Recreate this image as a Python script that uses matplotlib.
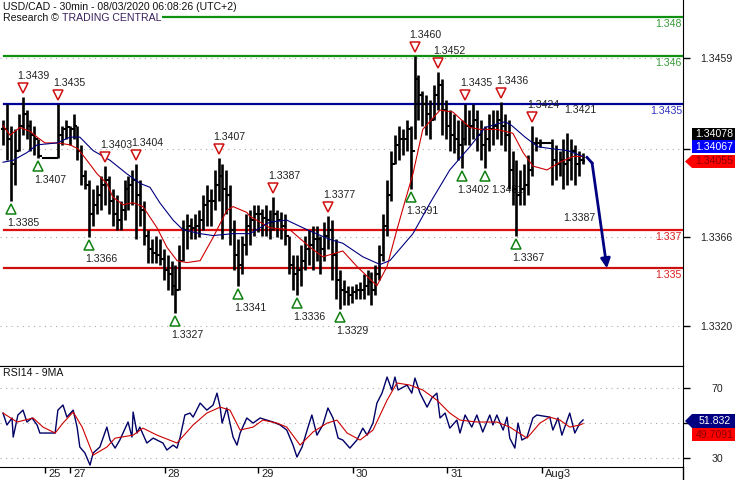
import numpy as np
import matplotlib
matplotlib.use('Agg')
import matplotlib.pyplot as plt
from matplotlib.patches import Polygon
from matplotlib.lines import Line2D
from matplotlib.transforms import offset_copy

plt.rcParams['font.family'] = ['Liberation Sans', 'DejaVu Sans']

# USD/CAD (one bar ~ one hour)
high = [1.3427, 1.3435, 1.3424, 1.3422, 1.3430, 1.3439, 1.3432, 1.3427, 1.3424, 1.3417,
        1.3407, 1.3407, 1.3407, 1.3407, 1.3435, 1.3424, 1.3427, 1.3424, 1.3430, 1.3424,
        1.3414, 1.3401, 1.3396, 1.3391, 1.3393, 1.3398, 1.3403, 1.3398, 1.3391, 1.3388,
        1.3385, 1.3396, 1.3398, 1.3401, 1.3404, 1.3396, 1.3385, 1.3370, 1.3365, 1.3367,
        1.3365, 1.3360, 1.3357, 1.3354, 1.3352, 1.3362, 1.3375, 1.3378, 1.3376, 1.3378,
        1.3380, 1.3388, 1.3393, 1.3391, 1.3401, 1.3407, 1.3404, 1.3401, 1.3393, 1.3375,
        1.3365, 1.3367, 1.3378, 1.3380, 1.3383, 1.3383, 1.3381, 1.3383, 1.3380, 1.3387,
        1.3380, 1.3379, 1.3378, 1.3367, 1.3357, 1.3357, 1.3362, 1.3367, 1.3370, 1.3372,
        1.3372, 1.3367, 1.3374, 1.3377, 1.3375, 1.3365, 1.3349, 1.3344, 1.3341, 1.3341,
        1.3342, 1.3343, 1.3347, 1.3349, 1.3348, 1.3352, 1.3362, 1.3378, 1.3396, 1.3411,
        1.3419, 1.3424, 1.3422, 1.3427, 1.3424, 1.3460, 1.3450, 1.3442, 1.3440, 1.3437,
        1.3445, 1.3452, 1.3448, 1.3437, 1.3432, 1.3430, 1.3427, 1.3427, 1.3435, 1.3432,
        1.3435, 1.3432, 1.3427, 1.3424, 1.3430, 1.3432, 1.3432, 1.3436, 1.3430, 1.3427,
        1.3411, 1.3406, 1.3401, 1.3404, 1.3409, 1.3424, 1.3418, 1.3417, 1.3415, 1.3415,
        1.3417, 1.3414, 1.3411, 1.3417, 1.3420, 1.3417, 1.3414, 1.3411, 1.3410]
low = [1.3414, 1.3406, 1.3385, 1.3393, 1.3411, 1.3419, 1.3417, 1.3411, 1.3409, 1.3407,
       1.3407, 1.3407, 1.3407, 1.3407, 1.3407, 1.3414, 1.3417, 1.3414, 1.3417, 1.3406,
       1.3393, 1.3391, 1.3366, 1.3372, 1.3378, 1.3380, 1.3383, 1.3378, 1.3372, 1.3370,
       1.3370, 1.3375, 1.3380, 1.3383, 1.3365, 1.3372, 1.3362, 1.3353, 1.3353, 1.3353,
       1.3352, 1.3344, 1.3339, 1.3336, 1.3327, 1.3339, 1.3354, 1.3360, 1.3365, 1.3365,
       1.3366, 1.3370, 1.3372, 1.3372, 1.3380, 1.3385, 1.3365, 1.3378, 1.3362, 1.3349,
       1.3341, 1.3347, 1.3357, 1.3362, 1.3367, 1.3369, 1.3367, 1.3367, 1.3365, 1.3370,
       1.3366, 1.3365, 1.3362, 1.3347, 1.3339, 1.3336, 1.3341, 1.3349, 1.3352, 1.3349,
       1.3354, 1.3347, 1.3354, 1.3360, 1.3344, 1.3334, 1.3329, 1.3331, 1.3331, 1.3332,
       1.3334, 1.3334, 1.3334, 1.3336, 1.3331, 1.3336, 1.3344, 1.3354, 1.3367, 1.3385,
       1.3404, 1.3406, 1.3409, 1.3411, 1.3391, 1.3417, 1.3427, 1.3424, 1.3419, 1.3417,
       1.3427, 1.3432, 1.3419, 1.3417, 1.3411, 1.3410, 1.3406, 1.3402, 1.3414, 1.3414,
       1.3417, 1.3411, 1.3406, 1.3402, 1.3411, 1.3414, 1.3417, 1.3414, 1.3411, 1.3391,
       1.3383, 1.3367, 1.3383, 1.3383, 1.3388, 1.3398, 1.3411, 1.3413, 1.3415, 1.3415,
       1.3393, 1.3396, 1.3398, 1.3391, 1.3393, 1.3396, 1.3393, 1.3398, 1.3404]
close = [1.3422, 1.3417, 1.3404, 1.3411, 1.3424, 1.3430, 1.3424, 1.3419, 1.3417, 1.3408,
         1.3407, 1.3407, 1.3407, 1.3407, 1.3419, 1.3422, 1.3423, 1.3422, 1.3424, 1.3411,
         1.3398, 1.3393, 1.3378, 1.3383, 1.3388, 1.3393, 1.3396, 1.3385, 1.3378, 1.3375,
         1.3380, 1.3391, 1.3393, 1.3396, 1.3388, 1.3380, 1.3367, 1.3360, 1.3358, 1.3357,
         1.3355, 1.3349, 1.3347, 1.3341, 1.3339, 1.3354, 1.3370, 1.3372, 1.3371, 1.3372,
         1.3375, 1.3383, 1.3385, 1.3385, 1.3393, 1.3398, 1.3391, 1.3388, 1.3370, 1.3357,
         1.3352, 1.3362, 1.3372, 1.3375, 1.3378, 1.3378, 1.3376, 1.3375, 1.3374, 1.3378,
         1.3375, 1.3372, 1.3367, 1.3352, 1.3347, 1.3349, 1.3354, 1.3360, 1.3362, 1.3365,
         1.3365, 1.3360, 1.3367, 1.3370, 1.3357, 1.3344, 1.3339, 1.3338, 1.3336, 1.3338,
         1.3339, 1.3339, 1.3341, 1.3343, 1.3339, 1.3347, 1.3357, 1.3372, 1.3388, 1.3404,
         1.3414, 1.3417, 1.3417, 1.3422, 1.3411, 1.3448, 1.3440, 1.3435, 1.3430, 1.3427,
         1.3440, 1.3445, 1.3432, 1.3424, 1.3419, 1.3417, 1.3414, 1.3417, 1.3424, 1.3424,
         1.3427, 1.3419, 1.3414, 1.3417, 1.3422, 1.3424, 1.3427, 1.3424, 1.3419, 1.3401,
         1.3391, 1.3388, 1.3391, 1.3393, 1.3401, 1.3415, 1.3415, 1.3415, 1.3415, 1.3415,
         1.3406, 1.3404, 1.3406, 1.3404, 1.3406, 1.3411, 1.3404, 1.3406, 1.34055]

# moving averages (bar position, price)
ma_fast_pos = [0, 1.8, 4.3, 6.9, 8.7, 10.7, 14, 17.1, 19.1, 21.4, 24, 26.5, 28, 30.6, 33.2,
               35.7, 39.3, 41.8, 44.4, 46.9, 50.3, 53.6, 57.1, 58.7, 62.2, 63, 68.1, 73.2,
               78.3, 81.6, 86.7, 90.3, 95.4, 98, 100.5, 102.6, 104.6, 107.1, 111.5, 114.8,
               119.1, 121.7, 126, 130.1, 132.7, 135.2, 138.8, 142.1, 145.4, 148]
ma_fast = [1.3424, 1.3419, 1.3423, 1.3421, 1.3418, 1.3415, 1.3415, 1.3414, 1.3412, 1.3406,
           1.3399, 1.3394, 1.3387, 1.3383, 1.3384, 1.3382, 1.3371, 1.3361, 1.3354, 1.3353,
           1.3354, 1.3366, 1.3380, 1.3382, 1.3379, 1.3377, 1.3371, 1.3370, 1.3361, 1.3356,
           1.3359, 1.3351, 1.3341, 1.3351, 1.3370, 1.3385, 1.3399, 1.3422, 1.3432, 1.3431,
           1.3423, 1.3422, 1.3422, 1.3420, 1.3410, 1.3403, 1.3401, 1.3405, 1.3408, 1.3408]
ma_slow_pos = [0, 2.6, 6.1, 8.7, 13.8, 17.1, 19.6, 23, 27.3, 31.6, 35, 37.5, 40, 43.4, 45.9,
               50.3, 53.6, 58.7, 63, 68.1, 72.4, 77.6, 83.4, 86.7, 91.8, 96.2, 98.7, 104.6,
               109, 114, 119.1, 123, 128.1, 129.8, 133.2, 136.5, 140, 144.1, 148]
ma_slow = [1.3405, 1.3406, 1.3410, 1.3414, 1.3415, 1.3418, 1.3418, 1.3411, 1.3406, 1.3399,
           1.3394, 1.3392, 1.3384, 1.3375, 1.3370, 1.3368, 1.3367, 1.3368, 1.3368, 1.3374,
           1.3375, 1.3370, 1.3365, 1.3363, 1.3356, 1.3352, 1.3354, 1.3368, 1.3384, 1.3401,
           1.3413, 1.3423, 1.3426, 1.3424, 1.3418, 1.3413, 1.3412, 1.3411, 1.3408]

# swing highs / lows (bar, label)
swing_hi = [(5, '1.3439'), (14, '1.3435'), (26, '1.3403'), (34, '1.3404'), (55, '1.3407'),
            (69, '1.3387'), (83, '1.3377'), (105, '1.3460'), (111, '1.3452'),
            (118, '1.3435'), (127, '1.3436'), (135, '1.3424')]
swing_lo = [(2, '1.3385'), (9, '1.3407'), (22, '1.3366'), (44, '1.3327'), (60, '1.3341'),
            (75, '1.3336'), (86, '1.3329'), (104, '1.3391'), (117, '1.3402'),
            (123, '1.3401'), (131, '1.3367')]
last_hi, last_lo = 1.3421, 1.3387

levels = [1.348, 1.346, 1.3435, 1.337, 1.335]
level_txt = ['1.348', '1.346', '1.3435', '1.337', '1.335']

# projection arrow
proj_pos = [149, 150.3, 154.1]
proj_val = [1.34075, 1.34046, 1.3350]

# RSI14 and its 9MA
rsi_pos = [0, 1.0, 2.3, 2.6, 3.8, 5.1, 6.1, 7.4, 8.7, 9.4, 13.3, 14.0, 15.3, 16.3, 17.9,
           18.9, 19.6, 20.9, 22.2, 23.0, 24.7, 26.5, 27.3, 28.6, 29.8, 31.9, 32.9, 33.2,
           34.2, 34.9, 36.7, 38.3, 40.8, 41.8, 43.4, 44.4, 45.2, 46.4, 47.7, 48.5, 50.3,
           52.0, 53.6, 54.6, 55.4, 55.9, 57.1, 57.9, 58.7, 59.7, 60.5, 62.2, 63.8, 65.6,
           67.3, 68.9, 70.7, 72.4, 74.0, 75.0, 76.3, 77.6, 78.8, 80.1, 81.6, 82.9, 84.2,
           85.5, 86.7, 88.5, 90.3, 91.8, 92.9, 94.4, 95.4, 96.7, 98.0, 99.2, 100.0, 100.8,
           103.1, 104.3, 105.1, 106.4, 108.2, 109.4, 110.7, 111.5, 112.8, 114.0, 115.8,
           116.6, 117.9, 119.6, 120.9, 122.4, 124.2, 125.0, 126.0, 127.6, 128.6, 129.3,
           130.6, 131.4, 132.4, 133.7, 135.2, 136.2, 139.5, 140.3, 141.6, 142.6, 144.6,
           145.9, 147.2, 148.0]
rsi = [55.7, 48.9, 52.9, 42.0, 54.6, 57.4, 50.6, 52.9, 48.9, 44.3, 44.3, 57.4, 60.3, 53.4,
       57.4, 47.7, 36.3, 32.9, 26.0, 32.9, 36.3, 47.7, 40.3, 35.7, 40.3, 50.6, 42.0, 56.3,
       44.3, 47.7, 38.6, 41.4, 38.6, 34.6, 37.4, 35.7, 42.0, 54.6, 55.7, 53.4, 61.4, 57.4,
       60.3, 67.1, 59.1, 50.0, 58.6, 50.0, 42.0, 37.4, 44.3, 52.9, 50.0, 52.9, 51.7, 50.6,
       48.9, 46.0, 37.4, 30.6, 36.3, 46.0, 54.6, 43.1, 48.9, 58.6, 52.9, 41.4, 40.3, 35.7,
       40.3, 47.1, 43.1, 50.0, 61.4, 67.1, 76.3, 68.9, 76.3, 68.9, 71.7, 67.1, 75.7, 67.1,
       59.1, 64.3, 67.1, 52.9, 55.7, 47.1, 51.7, 44.3, 54.6, 47.7, 54.6, 44.9, 54.6, 48.9,
       54.6, 46.0, 53.4, 41.4, 35.7, 50.0, 40.3, 42.0, 52.9, 54.6, 53.4, 46.0, 52.9, 43.1,
       55.7, 44.3, 50.0, 51.8]
rsi_ma_pos = [0, 3.6, 7.7, 10.2, 13.3, 15.3, 17.9, 20.2, 23.0, 26.5, 28.6, 33.2, 35.7, 39.3,
              44.4, 48.5, 52.0, 55.4, 57.9, 60.5, 63.8, 66.3, 69.9, 72.4, 75.8, 79.1, 82.7,
              85.2, 87.8, 91.1, 94.4, 98.0, 100.5, 103.8, 107.1, 110.7, 114.0, 116.6, 120.9,
              126.0, 129.3, 133.7, 137.0, 139.5, 142.1, 144.6, 147.2, 148.0]
rsi_ma = [55.7, 50.6, 52.9, 47.7, 44.3, 50.0, 56.3, 47.7, 31.7, 36.3, 41.4, 43.1, 47.1, 43.1,
          38.6, 48.9, 55.7, 59.1, 57.4, 46.0, 47.7, 51.7, 50.0, 47.7, 37.4, 44.9, 50.0, 51.7,
          44.3, 40.3, 46.0, 63.1, 72.9, 71.7, 68.9, 63.1, 55.7, 51.7, 50.6, 50.6, 47.7, 41.4,
          50.0, 53.4, 51.7, 47.7, 48.9, 49.7]

day_pos = [10.7, 17.1, 41.3, 65.1, 89.3, 113.3, 137.5]
day_lbl = ['25', '27', '28', '29', '30', '31', 'Aug3']

tag_black, tag_blue, tag_red = '1.34078', '1.34067', '1.34055'
rsi_tag, rsi_ma_tag = '51.832', '49.7091'

# ---------------------------------------------------------------
W, H = 735, 480
FS = 7.6


def fx(x):
    return x / W


def fy(y):
    return 1 - y / H


fig = plt.figure(figsize=(W / 100, H / 100), dpi=100)
ax = fig.add_axes([0, fy(366), fx(683), 366 / H])
axr = fig.add_axes([0, fy(467), fx(683), 101 / H], sharex=ax)

idx = np.arange(len(close))
cl = np.array(close)
op = np.r_[cl[0], cl[:-1]]

# OHLC bars
ax.vlines(idx, low, high, color='black', lw=1.9, zorder=4)
ax.hlines(op, idx - 0.55, idx, color='black', lw=1.5, zorder=4)
ax.hlines(cl, idx, idx + 0.55, color='black', lw=1.5, zorder=4)

ax.plot(ma_fast_pos, ma_fast, color='#cc0000', lw=0.8, zorder=5)
ax.plot(ma_slow_pos, ma_slow, color='#000080', lw=0.8, zorder=5)

# support / resistance lines
lv_col = ['#109010', '#109010', '#000099', '#e01010', '#cc1010']
lv_txt_col = ['#3a9a3a', '#3a9a3a', '#3030c0', '#d82020', '#d82020']
for lv, t, c, tc in zip(levels, level_txt, lv_col, lv_txt_col):
    ax.axhline(lv, xmin=4 / 683, xmax=1, color=c, lw=1.6, zorder=3)
    ax.annotate(t, xy=(1, lv), xycoords=('axes fraction', 'data'), xytext=(-1, -2),
                textcoords='offset pixels', ha='right', va='top', color=tc, fontsize=FS)

# swing markers
up = offset_copy(ax.transData, fig=fig, x=0, y=9, units='dots')
dn = offset_copy(ax.transData, fig=fig, x=0, y=-8, units='dots')
for j, t in swing_hi:
    ax.plot(j, high[j], marker='v', ms=7, mfc='white', mec='#d01010', mew=1.1,
            transform=up, zorder=6)
    ax.annotate(t, xy=(j, high[j]), xytext=(-5, 21), textcoords='offset pixels',
                ha='left', va='center', fontsize=FS, color='#222222', zorder=3)
for k, (j, t) in enumerate(swing_lo):
    ax.plot(j, low[j], marker='^', ms=7, mfc='white', mec='#108010', mew=1.1,
            transform=dn, zorder=6)
    dx = 6 if k == 9 else -4
    ax.annotate(t, xy=(j, low[j]), xytext=(dx, -22), textcoords='offset pixels',
                ha='left', va='center', fontsize=FS, color='#222222', zorder=3)
ax.text(143.3, 1.3432, f'{last_hi:.4f}', fontsize=FS, color='#222222', va='center')
ax.text(143.0, 1.3376, f'{last_lo:.4f}', fontsize=FS, color='#222222', va='center')

# projection
ax.plot(proj_pos[:2], proj_val[:2], color='#000080', lw=2, zorder=6)
ax.annotate('', xy=(proj_pos[2], proj_val[2]), xytext=(proj_pos[1], proj_val[1]),
            arrowprops=dict(arrowstyle='-|>', color='#000080', lw=2, mutation_scale=14,
                            shrinkA=0, shrinkB=0), zorder=6)

ax.set_xlim(-0.77, 173.5)
ax.set_ylim(1.3459 - 308 / 19300, 1.3459 + 58 / 19300)
ax.set_yticks([1.3320, 1.3366, 1.3412, 1.3459])
ax.set_yticklabels(['1.3320', '1.3366', '', '1.3459'])
ax.yaxis.tick_right()
ax.tick_params(axis='y', length=5, width=1, pad=19, labelsize=FS, colors='black')
ax.tick_params(axis='x', bottom=False, labelbottom=False)
plt.setp(ax.get_yticklabels(), ha='center', color='#222222')
ax.grid(axis='y', ls=(0, (1, 4)), color='#aaaaaa', lw=0.8)
for s in ['top', 'left']:
    ax.spines[s].set_visible(False)

# RSI panel
axr.plot(rsi_pos, rsi, color='#000066', lw=1.0, zorder=4)
axr.plot(rsi_ma_pos, rsi_ma, color='#cc0000', lw=0.8, zorder=5)
axr.set_ylim(24.9, 82.6)
axr.set_yticks([30, 50, 70])
axr.set_yticklabels(['30', '', '70'])
axr.yaxis.tick_right()
axr.tick_params(axis='y', length=5, width=1, pad=20, labelsize=FS)
plt.setp(axr.get_yticklabels(), ha='center', color='#222222')
axr.grid(axis='y', ls=(0, (1, 4)), color='#aaaaaa', lw=0.8)
axr.spines['left'].set_visible(False)
axr.set_xticks(day_pos)
axr.tick_params(axis='x', length=4.5, width=1, labelbottom=False)
for p, t in zip(day_pos, day_lbl):
    axr.annotate(t, xy=(p, 0), xycoords=('data', 'axes fraction'), xytext=(3, -2),
                 textcoords='offset pixels', ha='left', va='top', fontsize=8, color='#222222')
fig.add_artist(Line2D([fx(683), fx(683)], [fy(467), fy(480)], color='black', lw=1))

# titles
fig.text(fx(3), fy(2), 'USD/CAD - 30min - 08/03/2020 06:08:26 (UTC+2)', va='top',
         fontsize=FS, color='#111111')
t1 = fig.text(fx(3), fy(13), 'Research \u00a9 ', va='top', fontsize=FS, color='#111111',
              bbox=dict(fc='white', ec='none', pad=0.5))
ax.annotate('TRADING CENTRAL', xy=(1, 0), xycoords=t1, va='bottom', ha='left',
            fontsize=FS, color='#3b1f5e', bbox=dict(fc='white', ec='none', pad=0.5),
            annotation_clip=False)
fig.text(fx(3), fy(368), 'RSI14 - 9MA', va='top', fontsize=FS, color='#111111')


# value tags on the right scale
def tag(x0, x1, y0, y1, text, fc, tc, arrow=False):
    a = 7 if arrow else 0
    pts = [(x0 + a, y0), (x1, y0), (x1, y1), (x0 + a, y1)]
    if arrow:
        pts.append((x0, (y0 + y1) / 2))
    fig.add_artist(Polygon([(fx(px), fy(py)) for px, py in pts], closed=True, fc=fc,
                           ec='none', transform=fig.transFigure, zorder=5))
    fig.text(fx((x0 + a + x1) / 2 + 1), fy((y0 + y1) / 2), text, ha='center', va='center',
             fontsize=FS, color=tc, zorder=6)


tag(692, 735, 128, 140, tag_black, 'black', 'white')
tag(692, 735, 140, 153, tag_blue, '#0000ff', 'white')
tag(685, 735, 155, 168, tag_red, '#ff0000', '#8b0000', arrow=True)
tag(685, 735, 414, 428, rsi_tag, '#000080', 'white', arrow=True)
tag(692, 735, 428, 441, rsi_ma_tag, '#ff0000', '#8b0000')

fig.savefig('out.png', dpi=100)
